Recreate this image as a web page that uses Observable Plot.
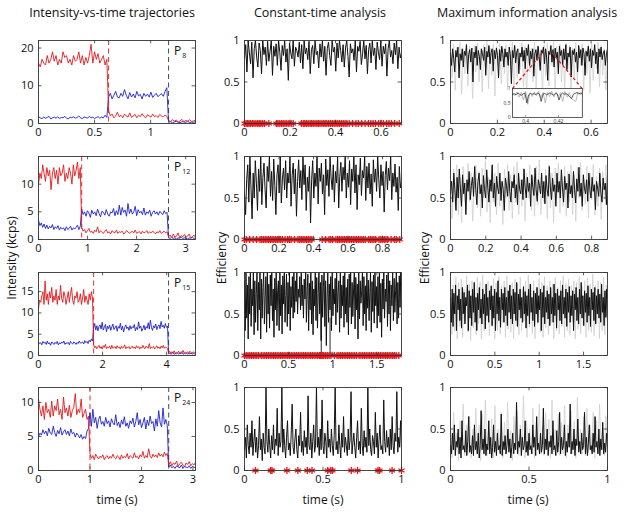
<!DOCTYPE html>
<html><head><meta charset="utf-8">
<script src="https://cdn.jsdelivr.net/npm/d3@7"></script>
<script src="https://cdn.jsdelivr.net/npm/@observablehq/plot@0.6"></script>
<style>
body{margin:0;background:#fff;}
#root{position:relative;width:629px;height:516px;overflow:hidden;font-family:"Open Sans",sans-serif;color:#111;background:#fff;}
#root svg{position:absolute;overflow:visible;}
.t{position:absolute;white-space:nowrap;line-height:1;}
.title{font-size:12.5px;transform:translate(-50%,-50%);}
.xl{font-size:12px;transform:translate(-50%,-50%);}
.yl{font-size:12px;transform:translate(-50%,-50%) rotate(-90deg);}
.pl{font-size:12px;}
.pl sub{font-size:7px;vertical-align:-3px;margin-left:1px;}
</style>
</head><body><div id="root"></div>
<script>
// ---------- column titles / labels ----------
const colTitles = ["Intensity-vs-time trajectories", "Constant-time analysis", "Maximum information analysis"];
const panelNames = ["8", "12", "15", "24"];

// ---------- intensity trajectories: phase boundaries (s) and segment values (kcps) ----------
const p8Bounds = [0, 0.625, 1.16, 1.4];
const p8Red = [
 [16,15,17,16,15.5,18,16,17,19,16.5,18,15.5,17,16,19,17.5,18,16,17,15.5,18,16.5,17,19,16,18,15.5,17.5,16,18,21,16,19,17,18.5,16,17,18,15.5,17],
 [3.5,2,2.5,1.5,2,3,1.8,2.2,1.5,2.5,2,1.7,2.8,1.6,2,2.4,1.5,2.2,1.8,2.6,1.9,1.5,2.3,2,1.7,2.5,1.8,2.1,1.6,2.4,2,1.8,2.2,1.9],
 [0.8,0.5,1,0.6,0.9,0.4,0.7,1.1,0.5,0.8,0.6,1,0.5,0.7,0.9]];
const p8Blue = [
 [1.8,1.5,1.3,1.7,1.4,1.6,1.9,1.2,1.5,1.7,1.4,1.8,1.3,1.6,1.5,1.9,1.4,1.2,1.7,1.5,1.8,1.4,1.6,2,1.5,1.3,1.7,1.6,1.4,1.9,1.5,1.7,1.3,1.6,1.8,1.4,1.7,1.5,2.2,1.6],
 [7,8,6.5,7.5,8.5,7,6.8,8,7.2,9,7.5,6.5,8.2,7,7.8,6.8,8.5,7.3,7.7,6.5,8,7.2,7.8,7,8.3,6.9,7.5,8,7.1,7.6,7.9,7.2,8.5,9.5],
 [0.3,0.5,0.2,0.4,0.6,0.3,0.2,0.5,0.4,0.3,0.6,0.2,0.4,0.3,0.5]];

const p12Bounds = [0, 0.88, 2.65, 3.2];
const p12Red = [
 [10,12,11,13.5,12,10.5,13,11.5,12.5,9,12,13,11,12.5,10,13,11.5,12,13.5,10.5,12,11,13,12,10,13.5,11.5,12.5,14,11,13],
 [2.2,1.5,1.8,1.2,1.6,2,1.3,1.5,1.1,1.7,1.4,2.3,1.2,1.6,1.3,1.1,1.5,1.8,1.2,1.4,1,1.6,1.3,1.2,1.7,1.1,1.4,1.3,1.5,1,1.2,1.6,1.4,1.1,1.3,1.5,1.2,1.7,1.1,1.3,1.4,1,1.5,1.2,1.3,1.6,1.1,1.4,1.2,1.5,1.3,1,1.4,1.2,1.6,1.1,1.3,1.5,1.2,1.4],
 [0.5,0.8,0.3,1,0.4,0.6,1.2,0.3,0.7,0.5,0.9,0.4,0.6,1,0.3,0.5,0.8,0.4]];
const p12Blue = [
 [3.5,2.5,3,2.2,2.8,2,2.6,1.9,2.4,2.1,2.7,1.8,2.3,2,2.5,1.7,2.2,1.9,2.1,1.6,2.3,1.8,2,2.4,1.7,2.1,1.9,2.2,2.6,1.8,2.4],
 [5.5,4.5,5,4.2,5.2,4.8,4,5.3,4.6,5,4.3,5.5,4.7,4.1,5.1,4.9,4.4,5.4,4.6,4.2,5,4.8,5.6,4.3,5.2,4.5,6.2,4.4,5.8,4.9,5.3,4.2,6.5,4.7,5.5,4.6,5,6,4.3,5.4,4.8,5.1,4.5,5.7,4.4,5,4.7,5.3,4.2,4.9,5.2,4.6,5,4.4,5.1,4.8,4.5,5.2,4.7,4.9],
 [0.3,0.2,0.4,0.2,0.3,0.1,0.3,0.2,0.4,0.2,0.3,0.2,0.1,0.3,0.2,0.4,0.2,0.3]];

const p15Bounds = [0, 1.72, 4.06, 4.9];
const p15Red = [
 [11,13,12.5,14,15,12,17.5,13,14.5,12,15,13.5,16,12.5,14,13,15.5,12,14,13,16.5,13.5,12.5,15,14,12,13.5,15,12.5,14.5,16,13,12,14,13.5,15,12.5,13,14.5,12,13.5,15.5,12.5,14,13,12,14.5,13,15,13.5],
 [2.5,1.8,2.2,1.6,2,2.4,1.7,2.1,1.5,2.3,1.9,2.6,1.6,2,1.8,2.2,1.5,2.4,1.7,1.9,2.1,1.6,2.3,1.8,2,1.5,2.2,1.7,1.9,2.5,1.6,2,1.8,2.1,1.5,1.9,2.2,1.7,2,1.6,2.3,1.8,2.1,1.5,2,1.7,2.4,1.8,1.6,2.2,1.9,1.7,2.8,1.6,2,1.8,2.1,1.5,1.9,2.3,1.7,2,1.6,2.2,1.8,2.4,1.7,2,1.9,1.6],
 [0.7,1,0.5,0.9,0.6,1.1,0.4,0.8,0.6,1,0.5,0.9,0.7,1.2,0.5,0.8,0.6,0.9,0.4,1,0.7,0.5,0.9,0.6,0.8]];
const p15Blue = [
 [3.2,2.8,3,2.5,3.3,2.9,3.1,2.6,3.4,2.7,3,2.4,3.2,2.9,2.6,3.1,2.8,3.3,2.5,3,2.7,3.2,2.9,3.4,2.6,3,2.8,3.1,2.5,3.3,2.9,2.7,3.2,3,2.6,3.1,2.8,3.4,2.9,3,3.2,2.7,3.5,3,3.3,2.8,3.6,3.2,3.9,3.4],
 [6.5,7.5,6,7,5.8,6.8,7.2,6.2,7.8,6,6.6,7.3,5.6,6.9,6.3,7.1,5.9,6.7,7.4,6.1,6.5,7,5.7,6.8,6.4,7.6,6,6.9,5.5,6.6,7.2,6.3,6.7,5.9,7,6.2,6.8,6.5,7.3,5.8,6.6,6.1,7.9,6.4,6.9,5.7,6.3,7.1,6,6.8,6.4,7.7,6.2,8.3,6.6,5.9,7,6.5,7.4,6.1,6.8,7.2,6.3,8,6.7,7.1,6.4,7.5,6.6,6.9],
 [0.4,0.6,0.3,0.5,0.7,0.3,0.5,0.4,0.6,0.3,0.5,0.4,0.7,0.3,0.5,0.4,0.6,0.3,0.5,0.4,0.6,0.3,0.5,0.4,0.6]];

const p24Bounds = [0, 1.0, 2.53, 3.05];
const p24Red = [
 [10.5,9,8,9.5,7.5,10,8.5,9,7.8,10.2,8,9.5,8.8,10.5,8.2,9,7.5,10.8,8.5,9.2,8,9.6,7.8,8.8,9.3,11.3,8.2,9,8.5,10.5,7.8,8.4,9,7.5,8],
 [2.5,1.8,2.2,1.6,2.4,2,1.7,2.1,1.9,2.3,1.6,2,2.2,1.7,2.1,1.8,2.4,1.9,1.7,2.2,2,1.6,2.3,1.8,2.1,1.9,2.5,1.7,2.2,2,1.8,2.6,1.9,2.1,1.7,2.3,2,2.8,1.8,2.2,1.9,3.2,2.1,1.8,2.4,2,2.3,1.9,2.6,2.1,2.4,2,2.7,2.2,2.5],
 [0.8,1.3,0.7,1.1,0.9,1.4,0.6,1,1.2,0.8,0.5,1.1,0.9,1.3,0.7,1,0.8,1.2]];
const p24Blue = [
 [5,5.5,5.2,6,5.4,5.8,5.1,6.2,5.5,5.3,6.5,5.6,5,5.9,5.4,6.3,5.2,5.7,6,5.3,5.8,5.1,6.1,5.4,5.6,4.9,5.5,5.2,4.8,5.3,4.6,5,4.7,5.8,6.2],
 [8.5,6.5,9,7,7.8,6.2,7.5,8,6.8,7.2,6.5,7.8,6.9,7.3,6.4,7.6,7,6.7,8.2,6.6,7.1,6.3,7.4,6.8,7.9,6.5,7,6.2,7.3,6.9,7.7,6.4,7.2,8.5,6.7,7.5,6.3,7,7.8,6.1,7.4,6.6,8,6.9,7.2,5.8,7.6,6.5,8.8,7,6.4,9.2,6.8,7.5,6.6],
 [0.5,0.8,0.4,0.6,0.3,0.7,0.5,0.4,0.8,0.3,0.6,0.5,0.4,0.7,0.3,0.6,0.5,0.4]];

const intXDomains = [[0,1.4],[0,3.2],[0,4.9],[0,3.05]];
const intYDomains = [[0,22],[0,15],[0,19.5],[0,12.2]];
const intXTicks = [[0,0.5,1],[0,1,2,3],[0,2,4],[0,1,2,3]];
const intYTicks = [[0,10,20],[0,5,10],[0,5,10,15],[0,5,10]];

// ---------- constant-time analysis: efficiency traces, time spans, red-star times ----------
const ctEnd = [0.69, 0.91, 1.78, 1.0];
const ct1 = [.78,.95,.62,1,.85,.72,.98,.55,.9,1,.8,.68,.97,.88,.6,1,.83,.92,.7,.99,.75,.87,1,.58,.93,.81,.96,.7,1,.86,.64,.94,.82,1,.74,.9,.52,.97,.85,.78,1,.69,.92,.88,.8,.98,.73,.95,.66,1,.84,.91,.77,.99,.6,.89,.94,.72,1,.83,.87,.67,.96,.8,1,.75,.93,.58,.9,.98,.82,.7,1,.86,.92,.63,.97,.79,1,.88,.74,.95,.68,.91,1,.81,.56,.96,.85,.9,.76,1,.62,.93,.87,.99,.71,.84,1,.78,.94,.6,.89,.97,.73,1,.82,.91,.65,.98,.86,.77,1,.69,.93,.84,.96,.57,.9,1,.8,.88,.72,.97,.83,1,.66,.92,.79,.85];
const ct2 = [.55,.3,.72,.9,.45,1,.62,.25,.8,.5,.95,.68,.35,.85,.58,1,.42,.75,.92,.6,.38,.88,.7,1,.52,.82,.47,.97,.65,.3,.78,.9,.56,1,.44,.73,.86,.6,.95,.5,.8,.68,1,.4,.77,.92,.55,.85,.28,.7,.96,.62,.83,.48,1,.66,.9,.35,.75,.58,.88,.2,.72,.95,.5,.8,.64,1,.43,.86,.7,.92,.55,.78,.3,.97,.65,.84,.52,1,.74,.6,.9,.45,.82,.68,1,.38,.76,.93,.58,.87,.72,1,.5,.8,.63,.95,.42,.85,.7,1,.56,.9,.36,.78,.66,.98,.53,.83,.74,1,.47,.88,.62,.92,.55,.79,.4,.96,.69,.85,.58,1,.73,.5,.9,.65,.82,.33,.77,.94,.6,.86,.71,1,.48,.8,.64,.91,.57,.75,.35,.88,.62,.7];
const ct3 = [.9,.3,1,.45,.85,.2,.95,.5,1,.35,.8,.6,1,.25,.9,.4,.75,1,.3,.88,.55,1,.2,.92,.45,.82,1,.38,.7,.95,.28,1,.5,.86,.33,.97,.6,1,.42,.8,.22,.93,.55,1,.36,.78,.9,.3,1,.48,.85,.26,.96,.62,1,.4,.72,.98,.35,.88,.5,1,.3,.83,.58,.95,.45,1,.52,.9,.65,1,.5,.8,.7,.95,.55,1,.6,.85,.45,.92,.68,1,.4,.78,.98,.3,.87,.55,1,.38,.9,.25,.8,.6,1,.42,.94,.33,.75,1,.5,.88,.18,.97,.46,.83,1,.35,.9,.12,.7,1,.4,.86,.55,.95,.3,1,.48,.8,.62,.93,.37,1,.52,.77,.9,.28,1,.45,.85,.6,.96,.34,1,.5,.82,.4,.92,.25,.98,.58,1,.38,.88,.47,.8,1,.32,.94,.55,.86,.2,1,.44,.9,.63,.78,1,.36,.95,.5,.84,.3,1,.57,.91,.42,.76,1,.28,.89,.53,.97,.39,1,.6,.83,.33,.95,.48,1,.4,.87,.22,.92,.56,1,.45,.8,.65,.97,.35,1,.5,.9,.3,.85,.6,1,.42,.93,.52,.78,1,.38,.88,.45,.96,.58,1,.5];
const ct4 = [.25,.4,.15,.55,.3,.2,.45,.28,.6,.18,.35,.5,.22,.4,.15,.3,.65,.25,.38,.12,.45,.28,.2,1,.35,.22,.5,.3,.15,.42,.25,.55,.2,.38,.3,.75,.18,.45,.28,.35,1,.22,.5,.3,.15,.4,.6,.25,.33,.18,.45,.8,.28,.2,.38,.5,.25,.15,.42,.3,.7,.22,.35,.18,.48,.28,.4,.2,.9,.3,.25,.45,.15,.35,.55,.22,.3,1,.28,.4,.18,.5,.25,.85,.3,.2,.45,.35,.15,.6,.28,.38,.22,.5,.3,.18,.42,1,.25,.35,.2,.55,.3,.15,.45,.28,.65,.22,.4,.3,.18,.5,.25,.38,.95,.2,.33,.45,.28,.15,.4,.6,.25,.35,.2,.75,.3,.18,.48,.28,.4,.22,1,.3,.5,.25,.18,.42,.35,.2,.7,.28,.45,.15,.38,.55,.25,.3,.2,.85,.35,.22,.48,.28,.4,.18,.5,.25,.65,.3,.2,.45,.35,.95,.22,.4,.28,.6,.25];
const ct3Dips = [0.87, 0.97];
const stars1 = [0,.007,.014,.02,.027,.035,.042,.05,.058,.065,.072,.08,.088,.107,.14,.147,.155,.163,.17,.178,.186,.195,.205,.214,.25,.258,.265,.272,.28,.288,.295,.302,.31,.318,.325,.332,.34,.348,.355,.362,.37,.378,.386,.394,.402,.41,.418,.426,.434,.442,.45,.46,.475,.49,.5,.515,.53,.545,.555,.565,.575,.59,.6,.61,.625,.635,.645,.66,.68];
const stars2 = [0,.01,.03,.05,.07,.09,.1,.11,.12,.13,.14,.15,.16,.17,.18,.19,.2,.21,.22,.235,.25,.26,.27,.29,.31,.32,.33,.34,.35,.36,.37,.38,.39,.45,.47,.49,.5,.51,.53,.54,.55,.56,.57,.58,.59,.6,.61,.62,.63,.64,.65,.66,.67,.68,.69,.7,.72,.73,.74,.75,.76,.78,.79,.8,.81,.82,.83,.85,.87,.88,.9];
const stars3 = [0,.02,.04,.06,.08,.1,.12,.14,.16,.19,.21,.23,.25,.27,.29,.31,.33,.35,.37,.39,.41,.43,.45,.47,.49,.51,.53,.55,.57,.59,.61,.63,.65,.67,.69,.71,.73,.75,.77,.79,.81,.83,.85,.86,.87,.88,.89,.9,.92,.94,.96,.98,1.02,1.05,1.07,1.09,1.11,1.13,1.15,1.17,1.19,1.21,1.23,1.25,1.27,1.3,1.32,1.34,1.36,1.38,1.4,1.42,1.44,1.46,1.48,1.5,1.52,1.54,1.56,1.58,1.6,1.62,1.64,1.66,1.68,1.7,1.72,1.75];
const stars4 = [.07,.167,.175,.27,.34,.40,.43,.53,.55,.56,.68,.72,.85,.86,.94,1.0];
const ctXTicks = [[0,0.2,0.4,0.6],[0,0.2,0.4,0.6,0.8],[0,0.5,1,1.5],[0,0.5,1]];

// ---------- maximum information analysis: black estimate + light-grey spread ----------
const miEnd = [0.67, 0.89, 1.77, 1.0];
const mi1 = [.85,.7,.9,.78,.62,.88,.8,.92,.55,.84,.76,.9,.68,.87,.82,.95,.6,.83,.89,.74,.91,.5,.86,.79,.93,.7,.88,.81,.65,.9,.84,.76,.92,.58,.87,.8,.94,.72,.85,.9,.63,.88,.78,.91,.82,.55,.89,.75,.93,.84,.68,.9,.8,.86,.7,.92,.83,.48,.88,.79,.94,.73,.86,.9,.6,.85,.8,.92,.75,.88,.66,.91,.82,.95,.7,.87,.78,.9,.57,.84,.89,.76,.93,.81,.64,.88,.85,.92,.72,.9,.8,.52,.87,.83,.94,.74,.89,.68,.91,.79,.86,.6,.93,.82,.88,.71,.9,.77,.95,.65,.85,.8,.92,.56,.88,.83,.9,.74,.86,.62,.94,.79,.89,.7,.91,.84,.58,.87,.81,.93,.75,.9,.67,.88,.82,.95,.72,.86,.6,.9,.8,.92,.77,.85,.88,.7,.84,.9];
const mi1g = [.9,.55,.95,.4,.92,.7,.98,.35,.9,.6,.96,.45,.93,.75,.3,.94,.62,.97,.5,.9,.38,.95,.68,.99,.42,.91,.58,.96,.33,.93,.7,.97,.48,.9,.6,.95,.4,.92,.72,.98,.36,.94,.55,.9,.65,.97,.44,.93,.3,.96,.62,.91,.5,.98,.4,.94,.68,.9,.35,.95,.57,.97,.45,.92,.7,.99,.38,.93,.6,.96,.5,.9,.42,.97,.65,.94,.32,.91,.55,.98,.47,.93,.7,.96,.4,.9,.6,.95,.36,.97,.52,.92,.66,.98,.44,.94,.58,.9,.4,.95];
const mi2 = [.55,.7,.45,.8,.6,.35,.75,.5,.85,.62,.4,.78,.55,.68,.3,.72,.58,.82,.48,.65,.75,.52,.88,.6,.42,.7,.8,.55,.66,.38,.77,.6,.5,.84,.62,.45,.72,.58,.9,.5,.68,.4,.76,.62,.55,.8,.47,.7,.6,.35,.74,.65,.52,.82,.58,.45,.7,.62,.78,.5,.66,.42,.8,.6,.55,.72,.48,.85,.62,.5,.75,.58,.68,.4,.78,.63,.53,.86,.6,.46,.72,.65,.55,.8,.5,.7,.43,.77,.6,.52,.88,.62,.48,.74,.58,.66,.4,.8,.57,.7,.5,.84,.62,.45,.76,.6,.68,.38,.79,.55,.65,.5,.82,.6,.44,.73,.58,.87,.52,.68,.4,.78,.62,.55,.72,.46,.8,.6,.5,.75,.58,.66,.36,.7,.62,.52,.8,.56,.45,.74,.6,.68,.42,.77];
const mi2g = [.6,.25,.85,.4,.9,.3,.75,.2,.88,.5,.35,.92,.45,.8,.22,.7,.9,.38,.82,.28,.86,.5,.95,.33,.75,.2,.88,.45,.8,.3,.92,.4,.7,.18,.85,.5,.9,.35,.78,.25,.88,.45,.94,.3,.72,.4,.86,.22,.8,.5,.9,.35,.76,.28,.88,.42,.96,.3,.7,.45,.85,.25,.9,.38,.8,.2,.86,.5,.92,.32,.75,.4,.88,.28,.82,.45,.9,.3,.78,.22,.87,.5,.93,.35,.74,.42,.88,.26,.8,.48,.9,.3,.76,.4,.86,.24,.82,.5,.9,.35];
const mi3 = [.7,.4,.8,.35,.75,.5,.85,.3,.72,.55,.8,.42,.68,.33,.82,.5,.76,.38,.7,.6,.85,.3,.78,.45,.72,.36,.8,.52,.88,.4,.7,.3,.75,.55,.82,.45,.68,.38,.8,.5,.74,.32,.86,.48,.7,.4,.78,.55,.84,.36,.72,.45,.8,.3,.76,.5,.9,.42,.7,.34,.8,.55,.75,.4,.82,.48,.7,.36,.78,.52,.85,.44,.72,.38,.8,.5,.76,.42,.88,.35,.74,.55,.8,.45,.7,.4,.83,.5,.77,.33,.72,.48,.8,.38,.86,.52,.7,.42,.78,.35,.75,.5,.82,.4,.72,.55,.8,.3,.76,.46,.84,.38,.7,.52,.78,.44,.74,.36,.82,.5,.7,.4,.86,.48,.75,.33,.8,.55,.72,.42,.78,.38,.85,.5,.7,.45,.8,.35,.76,.52,.83,.4,.72,.48,.78,.3,.74,.55,.82,.42,.7,.38,.8,.5,.88,.45,.72,.36,.78,.52,.75,.4,.84,.48,.7,.35,.8,.55,.76,.42,.82,.38,.72,.5,.8,.45,.74,.4,.86,.52,.7,.36,.78,.46,.8,.4];
const mi3g = [.9,.25,.85,.3,.95,.2,.88,.35,.92,.22,.8,.4,.96,.28,.86,.18,.9,.33,.82,.25,.94,.38,.88,.2,.97,.3,.85,.42,.9,.24,.8,.35,.93,.2,.87,.3,.95,.26,.84,.4,.9,.22,.96,.32,.82,.28,.88,.2,.92,.36,.86,.25,.94,.3,.8,.42,.9,.22,.97,.34,.85,.26,.9,.2,.83,.38,.93,.28,.88,.22,.95,.33,.84,.25,.9,.4,.86,.2,.94,.3,.82,.26,.9,.35,.96,.22,.87,.3,.92,.25,.84,.4,.9,.2,.88,.32,.95,.26,.83,.36,.9,.22,.93,.3,.86,.28,.98,.24,.84,.38,.9,.2,.88,.3,.94,.25,.85,.35];
const mi4 = [.3,.2,.45,.25,.55,.18,.35,.28,.5,.2,.4,.15,.6,.25,.3,.22,.48,.18,.35,.65,.22,.3,.2,.42,.18,.55,.25,.35,.2,.45,.15,.3,.72,.25,.38,.2,.5,.18,.32,.25,.6,.2,.4,.15,.28,.55,.22,.35,.18,.45,.25,.3,.2,.68,.18,.35,.25,.42,.2,.3,.5,.22,.38,.15,.28,.45,.2,.33,.25,.82,.2,.35,.28,.5,.18,.4,.25,.3,.6,.22,.35,.18,.45,.25,.3,.2,.55,.28,.4,.18,.65,.25,.33,.2,.45,.22,.3,.75,.2,.38,.25,.5,.18,.35,.28,.42,.2,.6,.25,.3,.18,.48,.22,.35,.7,.2,.4,.25,.3,.55,.18,.35,.22,.45,.28,.8,.2,.35,.25,.5,.18,.38,.3,.62,.22,.35,.2,.45,.25,.3,.7,.2,.4,.18,.33,.55,.25,.3,.2,.45,.22,.65,.28,.35,.2,.5,.18,.38,.25,.58,.2,.33,.22,.45,.28];
const mi4g = [.5,.15,.7,.25,.45,.12,.6,.3,.8,.18,.55,.2,.65,.15,.5,.28,.75,.2,.55,.12,.68,.3,.85,.18,.5,.25,.62,.15,.78,.22,.5,.3,.7,.15,.58,.2,.82,.25,.48,.12,.65,.3,.72,.18,.55,.22,.9,.15,.6,.28,.5,.2,.75,.15,.58,.3,.8,.2,.52,.18,.7,.25,.62,.15,.85,.22,.5,.3,.68,.18,.58,.2,.78,.15,.55,.28,.72,.2,.6,.15,.88,.25,.5,.2,.65,.18,.75,.22,.55,.3,.7,.15,.6,.2,.8,.25,.52,.18,.66,.22];
const miXTicks = [[0,0.2,0.4,0.6],[0,0.2,0.4,0.6,0.8],[0,0.5,1,1.5],[0,0.5,1]];
// inset (zoom of top panel)
const insetWindow = [0.392, 0.4345];
const insetPlace = {t0: 0.264, t1: 0.562, e0: 0.072, e1: 0.42, apexE: 0.85};
const insetBlack = [.8,.82,.78,.85,.8,.76,.82,.84,.5,.78,.83,.8,.82,.79,.84,.81,.55,.8,.83,.78,.82,.85,.8,.77,.83,.81,.6,.79,.84,.8,.82,.78,.7,.65,.8,.83,.86,.82,.84,.8];
const insetGrey = [.85,.75,.88,.7,.86,.6,.9,.45,.85,.72,.88,.75,.9,.68,.87,.5,.86,.72,.9,.7,.88,.73,.86,.55,.9,.7,.86,.65,.6,.55,.88,.78,.9];
const insetXTicks = [0.4, 0.42];
const insetYTicks = [0, 0.5, 1];
const effYTicks = [0, 0.5, 1];

// ---------- layout ----------
const colLeft = [38, 244, 450], rowTop = [40, 156, 272, 387], PW = 157, PH = 83;
const ML = 30, MR = 8, MT = 6, MB = 20;
const RED = "#e5171c", BLUE = "#1d1fd0";
const root = document.getElementById("root");
const fmt = d => String(d);

function segSeries(bounds, segs) {
  const out = [];
  segs.forEach((vals, k) => {
    const a = bounds[k], b = bounds[k + 1], n = vals.length;
    const last = k === segs.length - 1;
    vals.forEach((v, j) => out.push({t: a + (b - a) * j / (last ? n - 1 : n), v}));
  });
  return out;
}
function evenSeries(vals, end) {
  return vals.map((v, j) => ({t: end * j / (vals.length - 1), v}));
}

function panel(col, row, {xDomain, yDomain, xTicks, yTicks, marks, fs = "11px"}) {
  const [x0, x1] = xDomain, [y0, y1] = yDomain;
  const tx = (x1 - x0) * 0.022, ty = (y1 - y0) * 0.04;
  const p = Plot.plot({
    width: PW + ML + MR, height: PH + MT + MB,
    marginLeft: ML, marginRight: MR, marginTop: MT, marginBottom: MB,
    x: {domain: xDomain}, y: {domain: yDomain},
    style: {fontFamily: "Open Sans", fontSize: fs, color: "#111", background: "transparent", overflow: "visible"},
    marks: [
      ...marks,
      Plot.ruleX(xTicks, {x: d => d, y1: y0, y2: y0 + ty, stroke: "#333", strokeWidth: 0.8}),
      Plot.ruleX(xTicks, {x: d => d, y1: y1, y2: y1 - ty, stroke: "#333", strokeWidth: 0.8}),
      Plot.ruleY(yTicks, {y: d => d, x1: x0, x2: x0 + tx, stroke: "#333", strokeWidth: 0.8}),
      Plot.ruleY(yTicks, {y: d => d, x1: x1, x2: x1 - tx, stroke: "#333", strokeWidth: 0.8}),
      Plot.frame({stroke: "#333", strokeWidth: 0.9}),
      Plot.axisX(xTicks, {tickSize: 0, tickPadding: 5, label: null, fill: "#111", tickFormat: fmt}),
      Plot.axisY(yTicks, {tickSize: 0, tickPadding: 5, label: null, fill: "#111", tickFormat: fmt})
    ]
  });
  p.style.left = (colLeft[col] - ML) + "px";
  p.style.top = (rowTop[row] - MT) + "px";
  root.appendChild(p);
  return p;
}

function addText(cls, html, x, y) {
  const d = document.createElement("div");
  d.className = "t " + cls;
  d.innerHTML = html;
  d.style.left = x + "px";
  d.style.top = y + "px";
  root.appendChild(d);
  return d;
}

// column 1: intensity trajectories
const intData = [[p8Bounds, p8Red, p8Blue], [p12Bounds, p12Red, p12Blue], [p15Bounds, p15Red, p15Blue], [p24Bounds, p24Red, p24Blue]];
intData.forEach(([bounds, red, blue], r) => {
  panel(0, r, {
    xDomain: intXDomains[r], yDomain: intYDomains[r], xTicks: intXTicks[r], yTicks: intYTicks[r],
    marks: [
      Plot.ruleX([bounds[1]], {stroke: RED, strokeWidth: 0.9, strokeDasharray: "5,3.5"}),
      Plot.ruleX([bounds[2]], {stroke: "#333", strokeWidth: 0.9, strokeDasharray: "5,3.5"}),
      Plot.line(segSeries(bounds, blue), {x: "t", y: "v", stroke: BLUE, strokeWidth: 0.9, clip: true}),
      Plot.line(segSeries(bounds, red), {x: "t", y: "v", stroke: RED, strokeWidth: 0.9, clip: true})
    ]
  });
  addText("pl", "P<sub>" + panelNames[r] + "</sub>", colLeft[0] + PW - 21, rowTop[r] + 5);
});

// column 2: constant-time analysis
const ctData = [ct1, ct2, ct3, ct4], starData = [stars1, stars2, stars3, stars4];
ctData.forEach((vals, r) => {
  const marks = [
    Plot.line(evenSeries(vals, ctEnd[r]), {x: "t", y: "v", stroke: "#111", strokeWidth: 1, clip: true})
  ];
  if (r === 2) marks.push(Plot.ruleX(ct3Dips, {x: d => d, y1: 0, y2: 0.45, stroke: "#111", strokeWidth: 0.9}));
  marks.push(Plot.dot(starData[r], {x: d => d, y: 0, symbol: "asterisk", r: 3.3, stroke: RED, strokeWidth: 1.3}));
  panel(1, r, {xDomain: [0, ctEnd[r]], yDomain: [0, 1], xTicks: ctXTicks[r], yTicks: effYTicks, marks});
});

// column 3: maximum information analysis
const miData = [[mi1, mi1g], [mi2, mi2g], [mi3, mi3g], [mi4, mi4g]];
miData.forEach(([blk, grey], r) => {
  const marks = [
    Plot.line(evenSeries(grey, miEnd[r]), {x: "t", y: "v", stroke: "#cfcfcf", strokeWidth: 0.8, clip: true}),
    Plot.line(evenSeries(blk, miEnd[r]), {x: "t", y: "v", stroke: "#111", strokeWidth: 1, clip: true})
  ];
  if (r === 0) {
    const P = insetPlace;
    marks.push(Plot.link([
      {x1: P.t0, y1: P.e1, x2: insetWindow[0], y2: P.apexE},
      {x1: P.t1, y1: P.e1, x2: insetWindow[1], y2: P.apexE}
    ], {x1: "x1", y1: "y1", x2: "x2", y2: "y2", stroke: RED, strokeWidth: 1.3, strokeDasharray: "3,2.5"}));
  }
  const p = panel(2, r, {xDomain: [0, miEnd[r]], yDomain: [0, 1], xTicks: miXTicks[r], yTicks: effYTicks, marks});
  if (r === 0) {
    const sx = p.scale("x"), sy = p.scale("y");
    const left = colLeft[2] - ML + sx.apply(insetPlace.t0);
    const right = colLeft[2] - ML + sx.apply(insetPlace.t1);
    const top = rowTop[0] - MT + sy.apply(insetPlace.e1);
    const bottom = rowTop[0] - MT + sy.apply(insetPlace.e0);
    const iml = 10, imb = 9, imt = 1, imr = 1;
    const inset = Plot.plot({
      width: right - left + iml + imr, height: bottom - top + imt + imb,
      marginLeft: iml, marginRight: imr, marginTop: imt, marginBottom: imb,
      x: {domain: insetWindow}, y: {domain: [0, 1]},
      style: {fontFamily: "Open Sans", fontSize: "5px", color: "#333", background: "transparent", overflow: "visible"},
      marks: [
        Plot.frame({fill: "white"}),
        Plot.line(evenSeries(insetGrey, insetWindow[1] - insetWindow[0]).map(d => ({t: d.t + insetWindow[0], v: d.v})), {x: "t", y: "v", stroke: "#aaa", strokeWidth: 0.8}),
        Plot.line(evenSeries(insetBlack, insetWindow[1] - insetWindow[0]).map(d => ({t: d.t + insetWindow[0], v: d.v})), {x: "t", y: "v", stroke: "#333", strokeWidth: 0.8}),
        Plot.ruleX(insetXTicks, {x: d => d, y1: 0, y2: 0.06, stroke: "#333", strokeWidth: 0.5}),
        Plot.frame({stroke: "#333", strokeWidth: 0.8}),
        Plot.axisX(insetXTicks, {tickSize: 0, tickPadding: 2, label: null, tickFormat: fmt}),
        Plot.axisY(insetYTicks, {tickSize: 0, tickPadding: 2, label: null, tickFormat: fmt})
      ]
    });
    inset.style.left = (left - iml) + "px";
    inset.style.top = (top - imt) + "px";
    root.appendChild(inset);
  }
});

// titles and axis labels
addText("title", colTitles[0], 112, 13);
addText("title", colTitles[1], 320, 13);
addText("title", colTitles[2], 527, 13);
addText("yl", "Intensity (kcps)", 12, 258);
addText("yl", "Efficiency", 222, 258);
addText("yl", "Efficiency", 425, 258);
addText("xl", "time (s)", 117, 500);
addText("xl", "time (s)", 323, 500);
addText("xl", "time (s)", 528, 500);
</script>
</body></html>
